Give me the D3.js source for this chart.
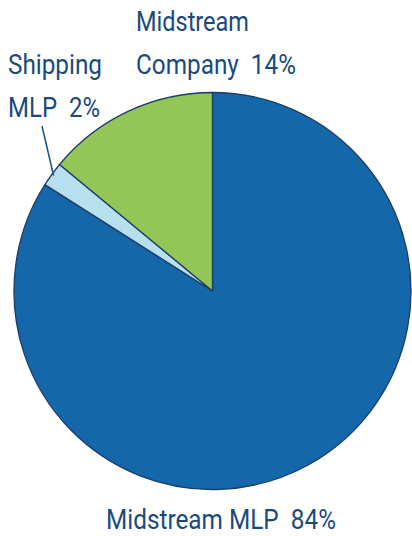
<!DOCTYPE html>
<html><head><meta charset="utf-8">
<script src="https://cdn.jsdelivr.net/npm/d3@7"></script>
<style>html,body{margin:0;padding:0;background:#fff;}svg{display:block;}</style>
</head><body>
<svg id="c" width="412" height="536"></svg>
<script>
const categories = ["Midstream MLP", "Shipping MLP", "Midstream Company"];
const values = [84, 2, 14];
const colors = ["#1467a8", "#b8dfee", "#93c557"];

const svg = d3.select("#c");
const cx = 212.5, cy = 291, r = 198.5;
const g = svg.append("g").attr("transform", `translate(${cx},${cy})`);
const pie = d3.pie().sort(null).value(d => d)(values);
const arc = d3.arc().innerRadius(0).outerRadius(r);
g.selectAll("path").data(pie).join("path")
  .attr("d", arc)
  .attr("fill", (d, i) => colors[i])
  .attr("stroke", "#1c3d6a")
  .attr("stroke-width", 1.3)
  .attr("stroke-linejoin", "round");

// leader line for Shipping MLP
const sh = pie[1];
const mid = (sh.startAngle + sh.endAngle) / 2;
const p0 = [Math.sin(mid) * (r - 2), -Math.cos(mid) * (r - 2)];
svg.append("line")
  .attr("x1", cx + p0[0]).attr("y1", cy + p0[1])
  .attr("x2", 42).attr("y2", 126)
  .attr("stroke", "#1c4f86").attr("stroke-width", 1.5);

const font = "Roboto,'DejaVu Sans Condensed',sans-serif";
const nb = "\u00a0\u00a0";
const labels = [
  {lines: [categories[0] + nb + values[0] + "%"], x: 106, y: [529], w: [230]},
  {lines: ["Shipping", "MLP" + nb + values[1] + "%"], x: 8, y: [74, 117], w: [94, 92]},
  {lines: ["Midstream", "Company" + nb + values[2] + "%"], x: 136, y: [31, 74], w: [113, 160]}
];
labels.forEach(l => {
  l.lines.forEach((t, j) => {
    svg.append("text").attr("x", l.x).attr("y", l.y[j])
      .attr("font-family", font).attr("font-size", 27).attr("font-weight", 400)
      .attr("textLength", l.w[j]).attr("lengthAdjust", "spacingAndGlyphs")
      .attr("fill", "#1a4a7c").text(t);
  });
});
</script>
</body></html>
